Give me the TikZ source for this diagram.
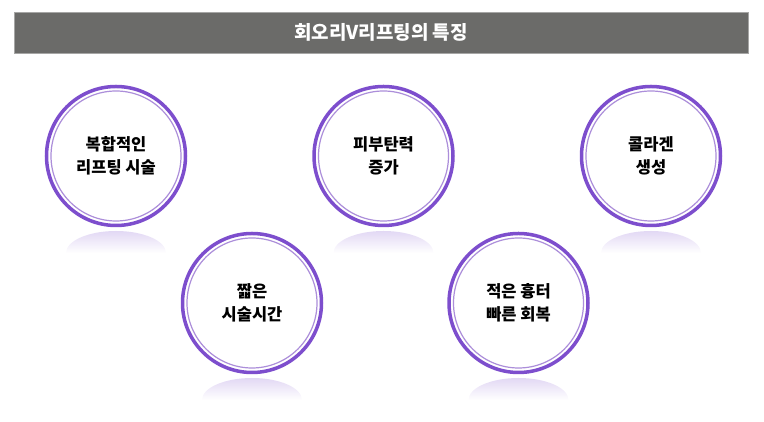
\documentclass[tikz,border=0pt]{standalone}
\usepackage{fontspec}
\newfontfamily\kr{Noto Sans CJK KR}
\usetikzlibrary{positioning, calc, fadings}
\definecolor{bannergray}{RGB}{107,107,105}
\definecolor{ringout}{RGB}{125,78,205}
\definecolor{ringin}{RGB}{172,142,218}
\tikzstyle{banner} = [rectangle, minimum width=734pt, minimum height=41pt, fill=bannergray, draw=bannergray!60, text=white, font=\kr\bfseries\fontsize{19}{22}\selectfont]
\tikzstyle{ring} = [circle, minimum size=139pt, draw=ringout, line width=3.5pt, fill=white, align=center, font=\kr\bfseries\fontsize{16.5}{23}\selectfont]
\tikzstyle{innerring} = [draw=ringin, line width=1.2pt]

\begin{document}
\begin{tikzpicture}[x=1pt, y=1pt]
    \useasboundingbox (0,0) rectangle (764,422);
    \node (title) [banner] at (381,389.5) {회오리V리프팅의 특징};
    % 위쪽 세 원
    \node (c1) [ring] at (116,266) {복합적인\\리프팅 시술};
    \node (c2) [ring, right=125pt of c1] {피부탄력\\증가};
    \node (c3) [ring, right=125pt of c2] {콜라겐\\생성};
    % 아래쪽 두 원
    \node (c4) [ring] at (252,119) {짧은\\시술시간};
    \node (c5) [ring, right=124pt of c4] {적은 흉터\\빠른 회복};
    % 안쪽 원과 반사
    \foreach \c in {c1,c2,c3,c4,c5} {
        \draw [innerring] (\c.center) circle (65pt);
        \fill [ringout!22, path fading=south] ($(\c.center)+(-50,-97)$) arc[start angle=180, end angle=0, x radius=50, y radius=22] -- cycle;
    }
\end{tikzpicture}
\end{document}
